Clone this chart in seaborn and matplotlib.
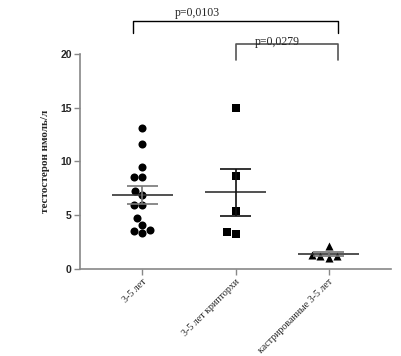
import numpy as np
import pandas as pd
import matplotlib
matplotlib.use("Agg")
import matplotlib.pyplot as plt
import seaborn as sns

categories = ["3-5 лет", "3-5 лет крипторхи", "кастрированные 3-5 лет"]
g1 = [13.06, 11.6, 9.5, 8.5, 8.5, 7.2, 6.9, 5.9, 5.9, 4.7, 4.1, 3.6, 3.5, 3.3]
g2 = [15.0, 8.63, 5.39, 3.47, 3.25]
g3 = [1.3, 2.17, 1.2, 1.2, 1.0]
groups = [g1, g2, g3]
markers = ["o", "s", "^"]
p_labels = ["p=0,0103", "p=0,0279"]
ylabel = "тестостерон нмоль/л"
yticks = [0, 5, 10, 15, 20]

df = pd.DataFrame({
    "group": sum([[c] * len(v) for c, v in zip(categories, groups)], []),
    "value": sum(groups, []),
})

sns.set_style("ticks")
fig = plt.figure(figsize=(4.01, 3.56), dpi=100)
ax = fig.add_axes([80 / 401, 1 - 269 / 356, 311 / 401, (269 - 53.7) / 356])

for cat, mk in zip(categories, markers):
    sub = df[df["group"] == cat]
    sns.swarmplot(data=sub, x="group", y="value", order=categories, marker=mk,
                  color="black", size=5.8, ax=ax, linewidth=0)

for i, vals in enumerate(groups):
    v = np.array(vals)
    m = v.mean()
    se = v.std(ddof=1) / np.sqrt(len(v))
    ecol = "#111111" if i == 1 else "#777777"
    ax.hlines(m, i - 0.33, i + 0.33, color="#333333", lw=1.2, zorder=3)
    ax.vlines(i, m - se, m + se, color=ecol, lw=1.2, zorder=3)
    ax.hlines([m - se, m + se], i - 0.17, i + 0.17, color=ecol, lw=1.2, zorder=3)

ax.set_xlim(-0.67, 2.67)
ax.set_ylim(0, 20)
ax.set_yticks(yticks)
ax.set_yticklabels([str(t) for t in yticks], fontweight="bold",
                   family="Liberation Sans", fontsize=7.5)
ax.set_xticks(range(len(categories)))
ax.set_xticklabels(categories, rotation=45, ha="right", rotation_mode="anchor",
                   family="Liberation Serif", fontsize=7.2)
ax.set_xlabel("")
ax.set_ylabel(ylabel, family="Liberation Serif", fontweight="bold", fontsize=8,
              labelpad=7)
for s in ["top", "right"]:
    ax.spines[s].set_visible(False)
for s in ["left", "bottom"]:
    ax.spines[s].set_color("#888888")
    ax.spines[s].set_linewidth(1.2)
ax.tick_params(axis="both", color="#888888", width=1.0, length=4, pad=2)

# significance brackets
ax.plot([-0.097, -0.097, 2.097, 2.097], [21.9, 23.05, 23.05, 21.9],
        color="black", lw=1.0, clip_on=False)
ax.text(0.59, 23.2, p_labels[0], ha="center", va="bottom",
        family="Liberation Serif", fontsize=8.5)
ax.plot([1.01, 1.01, 2.097, 2.097], [19.4, 20.86, 20.86, 19.4],
        color="#555555", lw=1.2, clip_on=False)
ax.text(1.45, 20.55, p_labels[1], ha="center", va="bottom",
        family="Liberation Serif", fontsize=8.5)

fig.savefig("out.png", dpi=100)
